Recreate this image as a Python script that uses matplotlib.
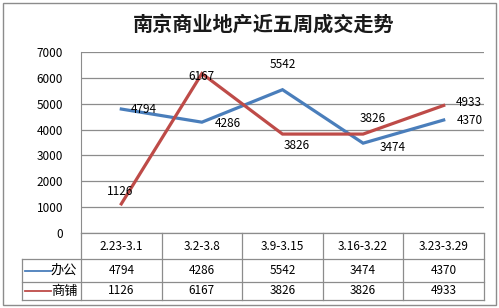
import matplotlib
matplotlib.use("Agg")
import matplotlib.pyplot as plt
from matplotlib.lines import Line2D
from matplotlib.patches import Rectangle

plt.rcParams['font.family'] = ['Noto Sans CJK SC', 'DejaVu Sans']

title = "南京商业地产近五周成交走势"
weeks = ["2.23-3.1", "3.2-3.8", "3.9-3.15", "3.16-3.22", "3.23-3.29"]
series_names = ["办公", "商铺"]
office = [4794, 4286, 5542, 3474, 4370]
shop = [1126, 6167, 3826, 3826, 4933]
colors = ["#4a7ebb", "#be4b48"]

W, H = 499, 308
fig = plt.figure(figsize=(W / 100, H / 100), dpi=100)

def fx(px):
    return px / W

def fy(py):
    return 1 - py / H

# layout in pixels
x0, x1 = 81, 484
y_top, y_zero = 52, 233
row_y = [233, 259, 282, 300]
lab_x0 = 22
grid_c = "#8c8c8c"

ax = fig.add_axes([fx(x0), fy(y_zero), fx(x1) - fx(x0), fy(y_top) - fy(y_zero)])
x = list(range(len(weeks)))
ax.plot(x, office, color=colors[0], lw=2.3, solid_joinstyle="miter")
ax.plot(x, shop, color=colors[1], lw=2.3, solid_joinstyle="miter")
ax.set_xlim(-0.5, len(weeks) - 0.5)
ax.set_ylim(0, 7000)
ax.set_yticks(range(0, 7001, 1000))
ax.tick_params(axis="y", length=0, pad=13, labelsize=8.5)
ax.set_xticks([])
ax.grid(axis="y", color=grid_c, lw=0.9)
for s in ["top", "right", "bottom"]:
    ax.spines[s].set_visible(False)
ax.spines["left"].set_color(grid_c)

# data labels (offsets in points)
office_off = [(16, 0), (19, -1), (0, 18), (21, -3), (19, 0)]
shop_off = [(-1, 9), (0, -2), (10, -8), (7, 11.5), (18, 2)]
for i, v in enumerate(office):
    ax.annotate(str(v), (i, v), xytext=office_off[i], textcoords="offset points",
                ha="center", va="center", fontsize=8.5)
for i, v in enumerate(shop):
    ax.annotate(str(v), (i, v), xytext=shop_off[i], textcoords="offset points",
                ha="center", va="center", fontsize=8.5)

# title
fig.text(fx(264), fy(24), title, ha="center", va="center", fontsize=14.5, fontweight="bold",
         color="#1a1a1a")

# data table
def hline(px0, px1, py):
    fig.add_artist(Line2D([fx(px0), fx(px1)], [fy(py), fy(py)], color=grid_c, lw=0.9))

def vline(px, py0, py1):
    fig.add_artist(Line2D([fx(px), fx(px)], [fy(py0), fy(py1)], color=grid_c, lw=0.9))

col_w = (x1 - x0) / len(weeks)
hline(x0, x1, row_y[0])
for y in row_y[1:]:
    hline(lab_x0, x1, y)
for j in range(len(weeks) + 1):
    vline(x0 + j * col_w, row_y[0], row_y[-1])
vline(lab_x0, row_y[1], row_y[-1])

for j, w in enumerate(weeks):
    fig.text(fx(x0 + (j + 0.5) * col_w), fy((row_y[0] + row_y[1]) / 2), w,
             ha="center", va="center", fontsize=8.5)

for r, (name, vals) in enumerate(zip(series_names, [office, shop])):
    yc = (row_y[r + 1] + row_y[r + 2]) / 2
    fig.add_artist(Line2D([fx(25), fx(51)], [fy(yc), fy(yc)], color=colors[r], lw=1.3))
    fig.text(fx(64), fy(yc), name, ha="center", va="center", fontsize=9.5)
    for j, v in enumerate(vals):
        fig.text(fx(x0 + (j + 0.5) * col_w), fy(yc), str(v),
                 ha="center", va="center", fontsize=8.5)

# outer frame
fig.add_artist(Rectangle((fx(3), fy(305)), fx(493), fy(3) - fy(305), fill=False,
                         edgecolor="#8c8c8c", lw=1))

fig.savefig("out.png", dpi=100)
